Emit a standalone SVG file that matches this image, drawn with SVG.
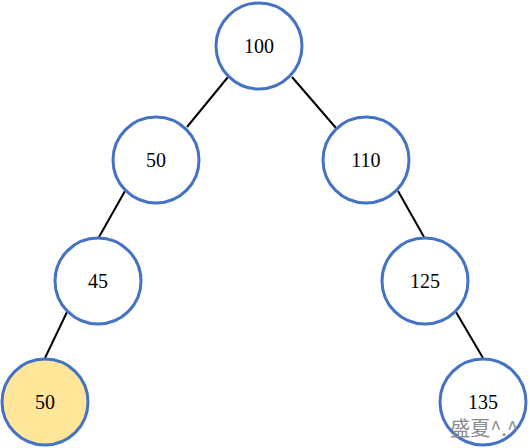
<svg xmlns="http://www.w3.org/2000/svg" width="530" height="448" viewBox="0 0 530 448">
<style>
.n{fill:#fff;stroke:#4472C4;stroke-width:3}
.hl{fill:#FFE699}
.e{stroke:#000;stroke-width:2}
</style>
<rect width="530" height="448" fill="#fff"/>
<g id="edges">
<line class="e" x1="228" y1="77" x2="187" y2="127"/>
<line class="e" x1="292" y1="77" x2="336" y2="128"/>
<line class="e" x1="125" y1="191" x2="99" y2="237"/>
<line class="e" x1="398" y1="191" x2="424" y2="237"/>
<line class="e" x1="67" y1="312" x2="45" y2="358"/>
<line class="e" x1="456" y1="312" x2="483" y2="358"/>
</g>
<g font-family="Liberation Serif, serif" font-size="20" text-anchor="middle" fill="#000">
<g id="n100"><circle class="n" cx="259" cy="46" r="43"/><text x="259" y="53">100</text></g>
<g id="n50"><circle class="n" cx="156" cy="160" r="43"/><text x="156" y="167">50</text></g>
<g id="n110"><circle class="n" cx="366" cy="160" r="43"/><text x="366" y="167">110</text></g>
<g id="n45"><circle class="n" cx="98" cy="281" r="43"/><text x="98" y="288">45</text></g>
<g id="n125"><circle class="n" cx="425" cy="281" r="43"/><text x="425" y="288">125</text></g>
<g id="n50b"><circle class="n hl" cx="45" cy="402" r="43"/><text x="45" y="409">50</text></g>
<g id="n135"><circle class="n" cx="483" cy="402" r="43"/><text x="483" y="409">135</text></g>
</g>
<text x="518" y="436" font-family="Noto Sans CJK SC, sans-serif" font-size="20" fill="#8c8c8c" text-anchor="end">盛夏^.^</text>
</svg>
